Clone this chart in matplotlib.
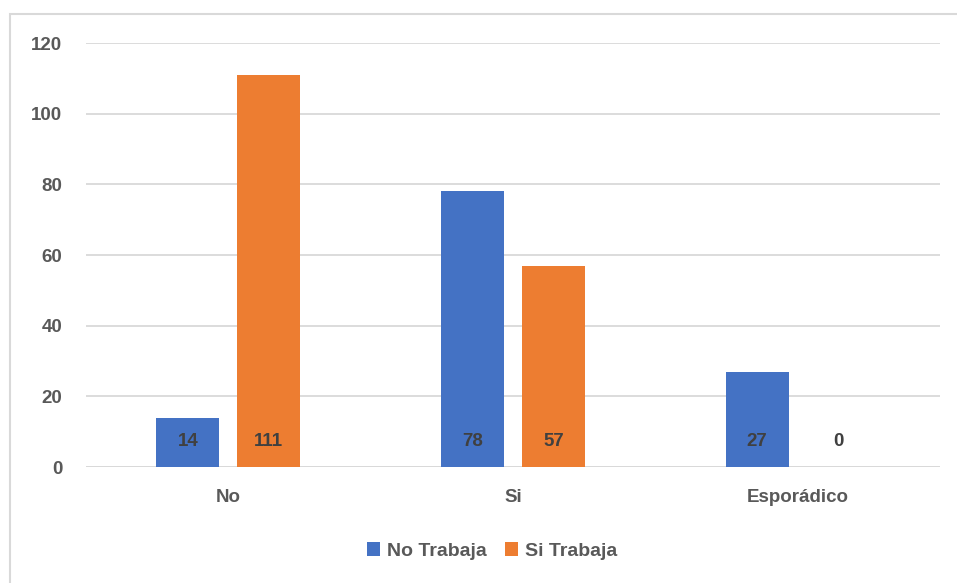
import numpy as np
import matplotlib.pyplot as plt
from matplotlib.patches import Rectangle

# data
categorias = ["No", "Si", "Esporádico"]
no_trabaja = [14, 78, 27]
si_trabaja = [111, 57, 0]
yticks = [0, 20, 40, 60, 80, 100, 120]

azul = "#4472C4"
naranja = "#ED7D31"
gris_txt = "#595959"
gris_lbl = "#404040"

plt.rcParams["font.family"] = ["Liberation Sans", "DejaVu Sans"]
plt.rcParams["font.weight"] = "bold"

W, H = 957, 583
fig = plt.figure(figsize=(W / 100, H / 100), dpi=100)
ax = fig.add_axes([86 / W, 1 - 467 / H, (940 - 86) / W, (467 - 43) / H])

x = np.arange(len(categorias))
ancho = 0.221
desp = 0.142
b1 = ax.bar(x - desp, no_trabaja, ancho, color=azul, zorder=3)
b2 = ax.bar(x + desp, si_trabaja, ancho, color=naranja, zorder=3)

for barras in (b1, b2):
    for r in barras:
        ax.annotate(f"{int(r.get_height())}", (r.get_x() + r.get_width() / 2, 0),
                    xytext=(0, 18), textcoords="offset points",
                    ha="center", va="center", fontsize=13.5, fontweight="bold",
                    color=gris_lbl, zorder=4)

ax.set_xlim(-0.5, 2.5)
ax.set_ylim(0, 120)
ax.set_yticks(yticks)
ax.set_xticks(x)
ax.set_xticklabels(categorias, fontweight="bold")
ax.set_yticklabels([str(v) for v in yticks], fontweight="bold")
ax.yaxis.grid(True, color="#D9D9D9", linewidth=1.3, zorder=0)
ax.tick_params(axis="both", length=0, labelsize=13.5, labelcolor=gris_txt)
ax.tick_params(axis="y", pad=17)
ax.tick_params(axis="x", pad=16)
for s in ax.spines.values():
    s.set_visible(False)
ax.axhline(0, color="#D9D9D9", linewidth=1.3, zorder=2)

leg = fig.legend([b1, b2], ["No Trabaja", "Si Trabaja"], loc="center",
                 bbox_to_anchor=(492 / W, 1 - 551 / H), ncol=2, frameon=False,
                 prop={"size": 14, "weight": "bold"}, handlelength=0.7,
                 handleheight=0.7, handletextpad=0.35, columnspacing=0.9)
for t in leg.get_texts():
    t.set_color(gris_txt)

fig.patches.append(Rectangle((10 / W, -0.1), 1.2, 1 - 14 / H + 0.1,
                             transform=fig.transFigure, fill=False,
                             edgecolor="#D9D9D9", linewidth=1.5))

fig.savefig("out.png", dpi=100, facecolor="white")
